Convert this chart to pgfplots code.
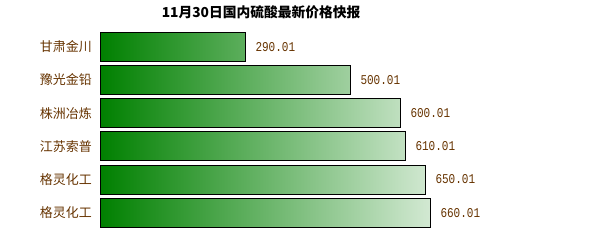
\documentclass[border=0pt]{standalone}
\usepackage{pgfplots}
\pgfplotsset{compat=1.18}
\usepackage{fontspec}
\setmainfont{Liberation Sans}
\newfontfamily\cjk{Noto Sans CJK SC}
\newfontfamily\valuefont[FakeStretch=0.82]{Liberation Mono}

\definecolor{barGreen}{RGB}{0,128,0}
\definecolor{labelBrown}{RGB}{102,51,0}

\begin{document}
\begin{tikzpicture}[x=1bp,y=1bp]
\path[use as bounding box] (0,0) rectangle (600,250);
\begin{axis}[
  at={(100bp,20.7bp)}, anchor=south west,
  scale only axis, width=450bp, height=199.2bp,
  xmin=0, xmax=900, ymin=0.5, ymax=6.5, y dir=reverse,
  clip=false,
  axis line style={draw=none},
  xtick=\empty,
  ytick={1,2,3,4,5,6},
  yticklabels={甘肃金川,豫光金铅,株洲冶炼,江苏索普,格灵化工,格灵化工},
  major tick length=0pt,
  yticklabel style={font=\cjk\fontsize{13}{13}\selectfont, text=labelBrown, inner sep=0pt, xshift=-8bp},
  title={11月30日国内硫酸最新价格快报},
  title style={at={(axis description cs:0.358,1.06)}, anchor=center, inner sep=0pt,
    font=\cjk\bfseries\fontsize{13.8}{13.8}\selectfont},
  nodes near coords, point meta=x,
  nodes near coords style={anchor=west, inner sep=0pt, xshift=10bp,
    font=\valuefont\fontsize{13.5}{13.5}\selectfont, text=labelBrown,
    /pgf/number format/.cd, fixed, fixed zerofill, precision=2, assume math mode=true},
  price bar/.style={xbar, bar width=29bp, bar shift=0pt, draw=black, line width=1bp,
    left color=barGreen, right color=#1},
]
% the shading fades from green at 0 towards white at 800
\addplot[price bar=white!36.25!barGreen] coordinates {(290.01,1)};
\addplot[price bar=white!62.5!barGreen]  coordinates {(500.01,2)};
\addplot[price bar=white!75!barGreen]    coordinates {(600.01,3)};
\addplot[price bar=white!76.25!barGreen] coordinates {(610.01,4)};
\addplot[price bar=white!81.25!barGreen] coordinates {(650.01,5)};
\addplot[price bar=white!82.5!barGreen]  coordinates {(660.01,6)};
\end{axis}
\end{tikzpicture}
\end{document}
